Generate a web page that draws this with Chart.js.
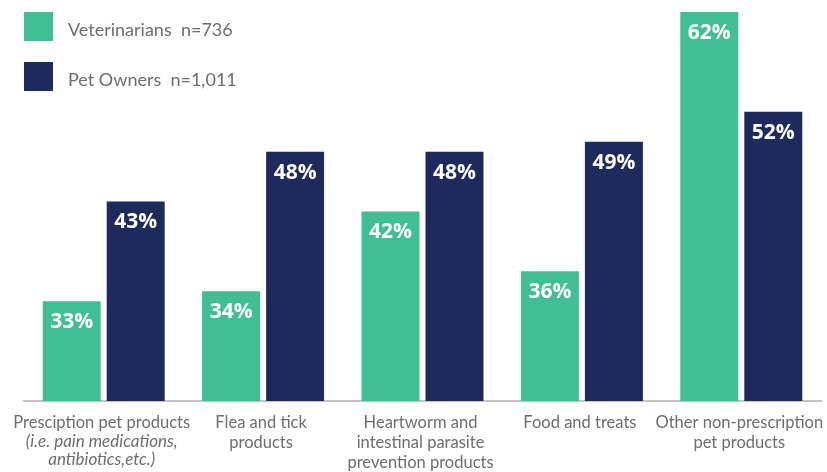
<!DOCTYPE html>
<html>
<head>
<meta charset="utf-8">
<script src="https://cdn.jsdelivr.net/npm/chart.js@4.4.1/dist/chart.umd.min.js"></script>
<style>
  body { margin: 0; background: #fff; }
  #wrap { width: 827px; height: 472px; }
</style>
</head>
<body>
<div id="wrap"><canvas id="chart"></canvas></div>
<script>
// category labels (regular lines + italic note lines)
const categoryLines = [
  ['Presciption pet products'],
  ['Flea and tick', 'products'],
  ['Heartworm and', 'intestinal parasite', 'prevention products'],
  ['Food and treats'],
  ['Other non-prescription', 'pet products']
];
const categoryNotes = [
  ['(i.e. pain medications,', 'antibiotics,etc.)'],
  [], [], [], []
];

const seriesNames = ['Veterinarians  n=736', 'Pet Owners  n=1,011'];
const vets   = [33, 34, 42, 36, 62];
const owners = [43, 48, 48, 49, 52];

const GREEN = '#40bf94';
const NAVY  = '#1f2a5c';
const GREY_TEXT = '#6e6e6e';

// white percentage inside the top of each bar
const valueLabels = {
  id: 'valueLabels',
  afterDatasetsDraw(chart) {
    const ctx = chart.ctx;
    ctx.save();
    ctx.fillStyle = '#fff';
    ctx.font = 'bold 21px "Open Sans"';
    ctx.textAlign = 'center';
    ctx.textBaseline = 'middle';
    chart.data.datasets.forEach((ds, di) => {
      chart.getDatasetMeta(di).data.forEach((bar, i) => {
        ctx.fillText(ds.data[i] + '%', bar.x, bar.y + 21);
      });
    });
    ctx.restore();
  }
};

// category names under the axis, notes in italic
const categoryText = {
  id: 'categoryText',
  afterDraw(chart) {
    const ctx = chart.ctx;
    const x = chart.scales.x;
    ctx.save();
    ctx.fillStyle = GREY_TEXT;
    ctx.textAlign = 'center';
    ctx.textBaseline = 'middle';
    categoryLines.forEach((lines, i) => {
      const cx = x.getPixelForValue(i) - 2;
      let y = 423;
      ctx.font = '16.5px Lato';
      lines.forEach(l => { ctx.fillText(l, cx, y); y += 20; });
      ctx.font = 'italic 17px Lato';
      categoryNotes[i].forEach(l => { ctx.fillText(l, cx, y - 1); y += 18; });
    });
    ctx.restore();
  }
};

// stacked legend in the top-left corner
const cornerLegend = {
  id: 'cornerLegend',
  afterDraw(chart) {
    const ctx = chart.ctx;
    ctx.save();
    ctx.textBaseline = 'middle';
    ctx.font = '18px Lato';
    chart.data.datasets.forEach((ds, i) => {
      const top = 12 + i * 50;
      ctx.fillStyle = ds.backgroundColor;
      ctx.fillRect(24, top, 29, 29);
      ctx.fillStyle = GREY_TEXT;
      ctx.fillText(ds.label, 68, top + 18);
    });
    ctx.restore();
  }
};

new Chart(document.getElementById('chart'), {
  type: 'bar',
  data: {
    labels: categoryLines.map(l => l.join(' ')),
    datasets: [
      { label: seriesNames[0], data: vets, backgroundColor: GREEN },
      { label: seriesNames[1], data: owners, backgroundColor: NAVY }
    ]
  },
  options: {
    responsive: true,
    maintainAspectRatio: false,
    animation: false,
    layout: { padding: { left: 24, right: 6, top: 12, bottom: 0 } },
    datasets: { bar: { categoryPercentage: 0.803, barPercentage: 0.906 } },
    scales: {
      x: {
        grid: { display: false },
        border: { display: true, color: '#c4c4c4', width: 2 },
        ticks: { display: false },
        afterFit(scale) { scale.height = 71; }
      },
      y: { display: false, min: 23, max: 62 }
    },
    plugins: { legend: { display: false }, tooltip: { enabled: false } }
  },
  plugins: [valueLabels, categoryText, cornerLegend]
});
</script>
</body>
</html>
